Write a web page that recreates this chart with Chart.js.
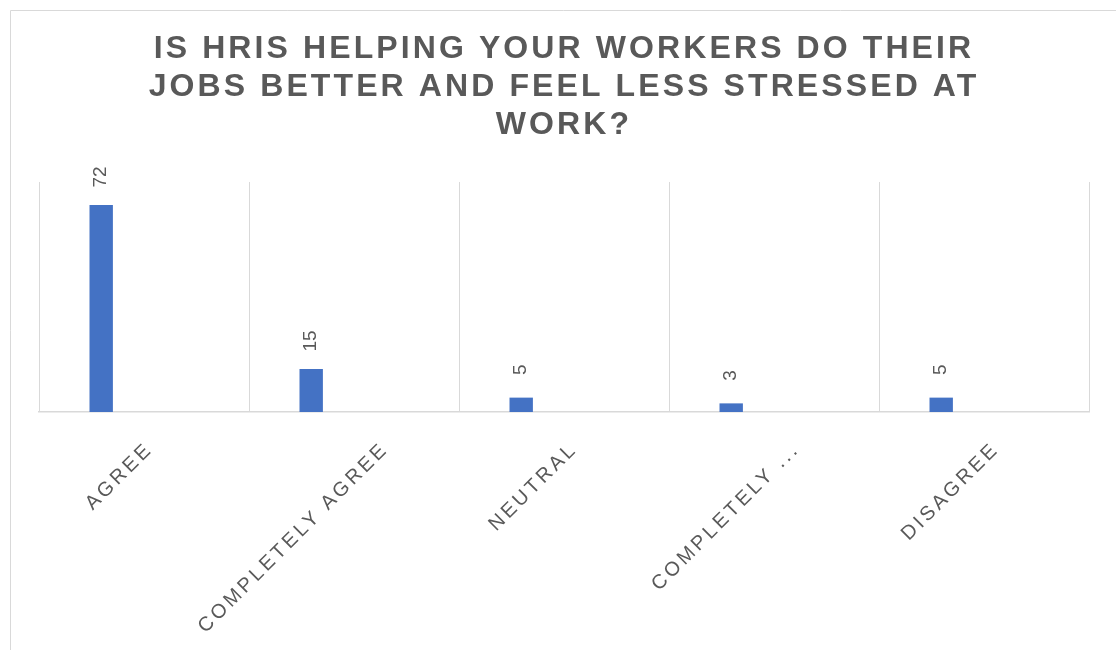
<!DOCTYPE html>
<html>
<head>
<meta charset="utf-8">
<script src="https://cdn.jsdelivr.net/npm/chart.js@4.4.1/dist/chart.umd.min.js"></script>
<style>
  html, body { margin: 0; padding: 0; background: #fff; overflow: hidden; }
  #wrap { width: 1116px; height: 650px; position: relative; }
</style>
</head>
<body>
<div id="wrap"><canvas id="hrisChart" width="1116" height="650"></canvas></div>
<script>
// Données du graphique
const titleLines = [
  "IS HRIS HELPING YOUR WORKERS DO THEIR",
  "JOBS BETTER AND FEEL LESS STRESSED AT",
  "WORK?",
];
const categories = ["AGREE", "COMPLETELY AGREE", "NEUTRAL", "COMPLETELY ...", "DISAGREE"];
const responses = [72, 15, 5, 3, 5];
// séries vides du classeur d'origine (elles réservent la place à droite des barres)
const emptySeries = [[], [], []];

const grey = "#595959";
const gridGrey = "#d9d9d9";
const fontFamily = "'Liberation Sans', Arial, sans-serif";

// Cadre du graphique
const framePlugin = {
  id: "frame",
  beforeDraw(chart) {
    const c = chart.ctx;
    c.save();
    c.strokeStyle = gridGrey;
    c.lineWidth = 1;
    c.beginPath();
    c.moveTo(10.5, chart.height + 5);
    c.lineTo(10.5, 10.5);
    c.lineTo(chart.width + 5, 10.5);
    c.stroke();
    c.restore();
    // espacement des lettres pour le titre
    c.letterSpacing = "3.1px";
  },
  afterDraw(chart) {
    chart.ctx.letterSpacing = "0px";
  },
};

// Étiquettes de valeurs (verticales) au-dessus des barres
const valueLabels = {
  id: "valueLabels",
  afterDatasetsDraw(chart) {
    const c = chart.ctx;
    const meta = chart.getDatasetMeta(0);
    meta.data.forEach((bar, i) => {
      c.save();
      c.letterSpacing = "0px";
      c.translate(bar.x, bar.y - 28);
      c.rotate(-Math.PI / 2);
      c.font = "19px " + fontFamily;
      c.fillStyle = grey;
      c.textAlign = "center";
      c.textBaseline = "middle";
      c.fillText(String(responses[i]), 0, 0);
      c.restore();
    });
  },
};

// Libellés de catégories inclinés à 45°
const tickLabels = {
  id: "tickLabels",
  afterDraw(chart) {
    const c = chart.ctx;
    const xScale = chart.scales.x;
    categories.forEach((label, i) => {
      c.save();
      c.letterSpacing = "3.2px";
      c.font = "20px " + fontFamily;
      c.fillStyle = grey;
      const w = c.measureText(label).width;
      const x = xScale.getPixelForTick(i) + 0.147 * w - 3;
      const y = xScale.top + 38;
      c.translate(x, y);
      c.rotate(-Math.PI / 4);
      c.textAlign = "right";
      c.textBaseline = "alphabetic";
      c.fillText(label, 0, 0);
      c.restore();
    });
  },
};

const datasets = [
  {
    label: "Réponses",
    data: responses,
    backgroundColor: "#4472c4",
    borderWidth: 0,
  },
].concat(
  emptySeries.map((serie, k) => ({
    label: "Série " + (k + 2),
    data: serie,
    backgroundColor: "#ed7d31",
    borderWidth: 0,
  }))
);

new Chart(document.getElementById("hrisChart"), {
  type: "bar",
  data: {
    labels: categories,
    datasets: datasets,
  },
  options: {
    responsive: false,
    animation: false,
    categoryPercentage: 0.5435,
    barPercentage: 0.82,
    layout: {
      padding: { top: 30, left: 39, right: 27, bottom: 0 },
    },
    plugins: {
      legend: { display: false },
      tooltip: { enabled: false },
      title: {
        display: true,
        text: titleLines,
        color: grey,
        font: { family: fontFamily, size: 32, weight: "bold", lineHeight: 38 / 32 },
        padding: { top: 0, bottom: 38 },
      },
    },
    scales: {
      x: {
        afterFit(scale) {
          scale.height = 238;
        },
        ticks: { display: false },
        grid: {
          color: gridGrey,
          lineWidth: 1,
          drawTicks: false,
          offset: true,
        },
        border: { color: gridGrey, width: 1.5 },
      },
      y: {
        display: false,
        min: 0,
        max: 80,
      },
    },
  },
  plugins: [framePlugin, valueLabels, tickLabels],
});
</script>
</body>
</html>
